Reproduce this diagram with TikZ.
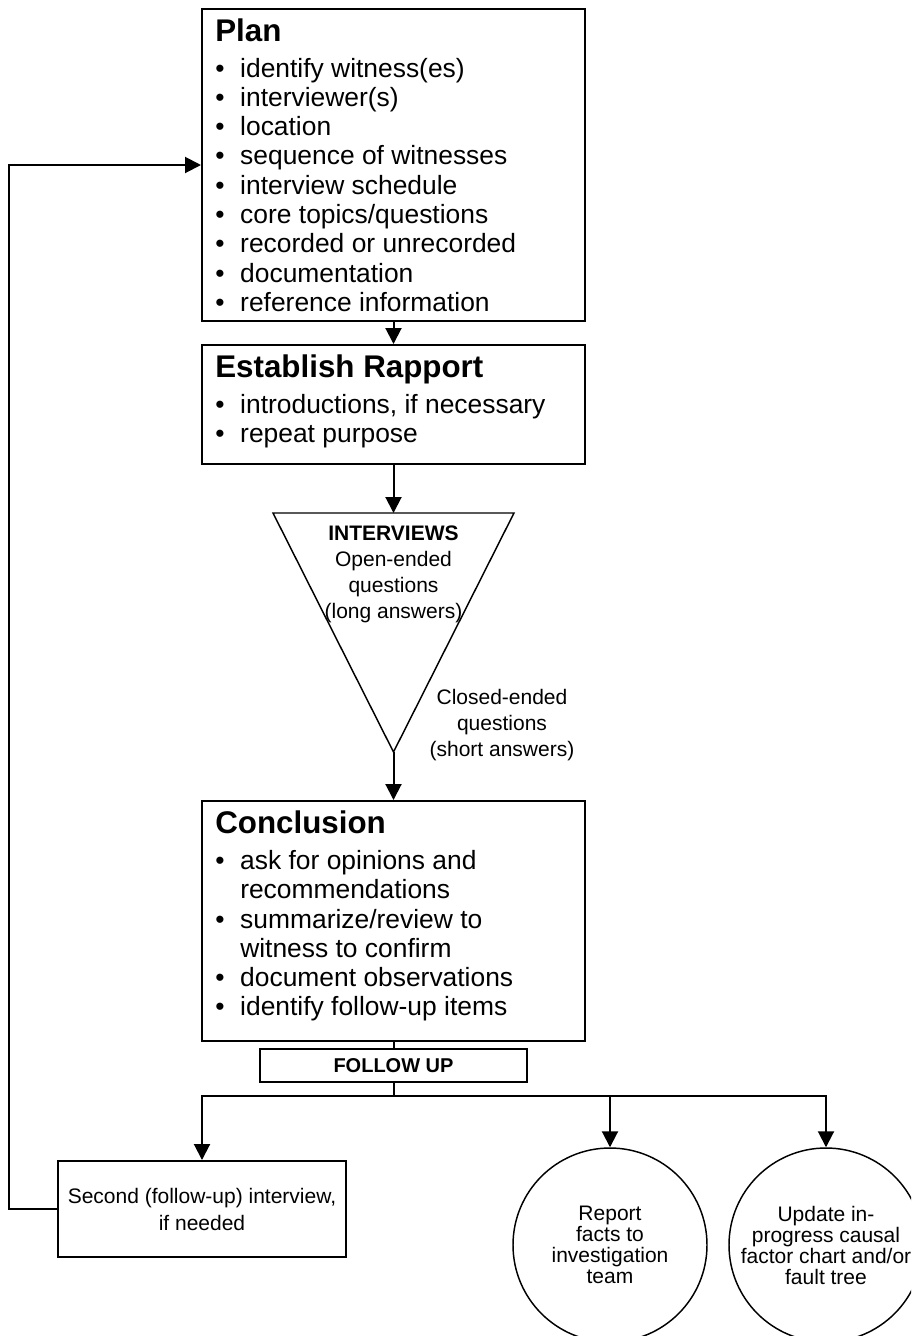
\documentclass[tikz,border=0pt]{standalone}
\usepackage{fontspec}
\setmainfont{Liberation Sans}
\usetikzlibrary{arrows.meta}
% bullet followed by a fixed gap, so item texts line up
\newcommand\itembullet{\makebox[18.75pt][l]{\textbullet}}
\newcommand\itemgap{\hspace*{18.75pt}}
\begin{document}
\begin{tikzpicture}[x=0.75pt,y=-0.75pt,
  box/.style={draw, line width=1.5pt, rectangle, inner sep=0pt},
  arr/.style={line width=1.5pt, -{Triangle[length=12pt,width=12pt]}},
  link/.style={line width=1.5pt},
  head/.style={font=\fontsize{23.5}{27}\selectfont\bfseries, inner sep=0pt, anchor=base west},
  item/.style={font=\fontsize{19.8}{22}\selectfont, inner sep=0pt, anchor=base west},
  small/.style={font=\fontsize{15.75}{19.5}\selectfont, inner sep=0pt},
  smallbold/.style={font=\fontsize{15.75}{19.5}\selectfont\bfseries, inner sep=0pt},
  circ/.style={draw, circle, line width=1.1pt, minimum size=145.5pt, inner sep=0pt},
]
\clip (0,0) rectangle (911,1336);

% ---- Plan ----
\node[box, minimum width=287.25pt, minimum height=234pt] (plan) at (393.5,165) {};
\node[head] (planH) at (215,41) {Plan};
\foreach \t [count=\i] in {identify witness(es), interviewer(s), location,
    sequence of witnesses, interview schedule, core topics/questions,
    recorded or unrecorded, documentation, reference information}
  \node[item] (plan-\i) at (215,{77+29.3*(\i-1)}) {\itembullet\t};

% ---- Establish Rapport ----
\node[box, minimum width=287.25pt, minimum height=89.25pt] (est) at (393.5,404.5) {};
\node[head] (estH) at (215,377) {Establish Rapport};
\node[item] (est-1) at (215,413) {\itembullet introductions, if necessary};
\node[item] (est-2) at (215,442) {\itembullet repeat purpose};

% ---- Interview funnel ----
\coordinate (triL) at (273,513);
\coordinate (triR) at (514,513);
\coordinate (triB) at (393.5,752);
\draw[line width=1.1pt, line join=miter] (triL) -- (triR) -- (triB) -- cycle;
\node[smallbold, anchor=base] (intH) at (393.5,540) {INTERVIEWS};
\node[small, anchor=base] (int-1) at (393.5,566) {Open-ended};
\node[small, anchor=base] (int-2) at (393.5,592) {questions};
\node[small, anchor=base] (int-3) at (393.5,618) {(long answers)};
\node[small, anchor=base] (cl-1) at (502,704) {Closed-ended};
\node[small, anchor=base] (cl-2) at (502,730) {questions};
\node[small, anchor=base] (cl-3) at (502,756) {(short answers)};

% ---- Conclusion ----
\node[box, minimum width=287.25pt, minimum height=180pt] (concl) at (393.5,921) {};
\node[head] (conclH) at (215,833) {Conclusion};
\node[item] (concl-1) at (215,869) {\itembullet ask for opinions and};
\node[item] (concl-2) at (215,898) {\itemgap recommendations};
\node[item] (concl-3) at (215,928) {\itembullet summarize/review to};
\node[item] (concl-4) at (215,957) {\itemgap witness to confirm};
\node[item] (concl-5) at (215,986) {\itembullet document observations};
\node[item] (concl-6) at (215,1015) {\itembullet identify follow-up items};

% ---- Follow up ----
\node[box, smallbold, draw, line width=1.5pt, minimum width=200.25pt, minimum height=24.75pt,
      font=\fontsize{15}{18}\selectfont\bfseries] (fu) at (393.5,1065.5) {FOLLOW UP};

\node[box, small, align=center, minimum width=216pt, minimum height=72pt,
      font=\fontsize{15.75}{20.25}\selectfont] (second) at (202,1209)
      {Second (follow-up) interview,\\if needed};

\node[circ] (rep) at (610,1245) {};
\node[small, align=center, font=\fontsize{15.75}{15.75}\selectfont] (repT) at (rep.center)
      {Report\\facts to\\investigation\\team};
\node[circ] (upd) at (826,1245) {};
\node[small, align=center, font=\fontsize{15.75}{15.75}\selectfont] (updT) at (upd.center)
      {Update in-\\progress causal\\factor chart and/or\\fault tree};

% ---- Connectors ----
\draw[arr] (plan.south) -- (est.north);
\draw[arr] (est.south) -- (est.south |- triL);
\draw[arr] (triB) -- (concl.north);
\draw[link] (concl.south) -- (fu.north);
\draw[link] (fu.south) -- ++(0,13) coordinate (br);
\draw[arr] (br) -| (second.north);
\draw[arr] (br) -| (rep.north);
\draw[arr] (br) -| (upd.north);
\draw[arr] (second.west) -- ++(-48,0) |- (plan.west);
\end{tikzpicture}
\end{document}
